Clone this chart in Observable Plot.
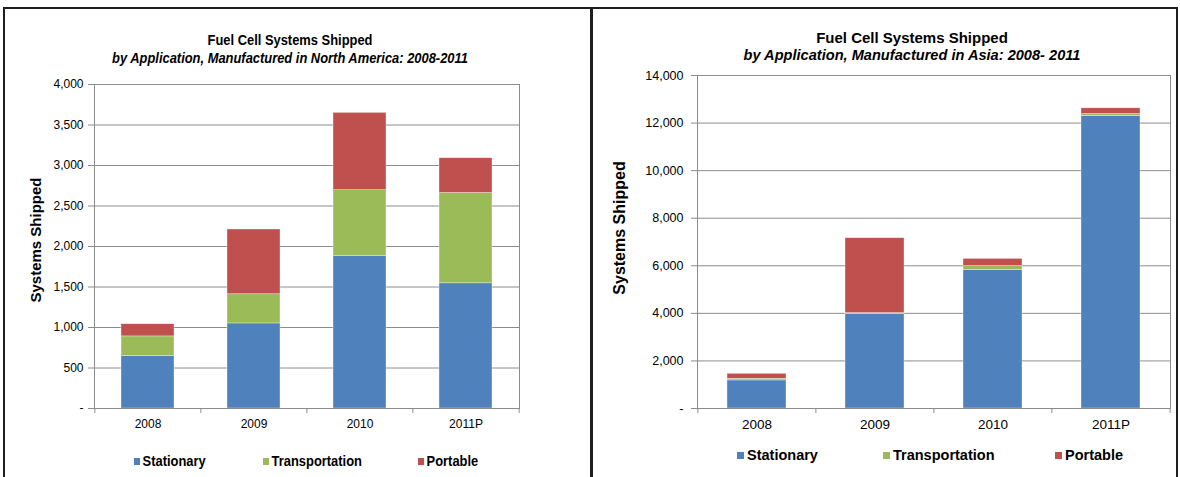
<!DOCTYPE html>
<html>
<head>
<meta charset="utf-8">
<script src="https://cdn.jsdelivr.net/npm/d3@7"></script>
<script src="https://cdn.jsdelivr.net/npm/@observablehq/plot@0.6"></script>
<style>
  html, body { margin: 0; padding: 0; background: #fff; }
  body { width: 1180px; height: 477px; position: relative; overflow: hidden;
         font-family: "Liberation Sans", Arial, sans-serif; color: #000; }
  .panel { position: absolute; top: 7px; height: 520px; border: 2px solid #1e1e1e; box-sizing: border-box; }
  .abs { position: absolute; white-space: nowrap; }
  /* condensed lettering used in the North America panel */
  .condensed { transform: scaleX(0.86); transform-origin: 50% 50%; }
  .condensed-left { transform: scaleX(0.86); transform-origin: 0 50%; }
  .title { font-weight: bold; text-align: center; }
  .subtitle { font-weight: bold; font-style: italic; text-align: center; }
  .ylabel { font-weight: bold; transform: translate(-50%, -50%) rotate(-90deg); }
  .legend-item { font-weight: bold; display: flex; align-items: center; }
  .legend-item i { display: inline-block; width: 7px; height: 7px; margin-right: 3px; }
  svg { position: absolute; overflow: visible; }
</style>
</head>
<body>
<div class="panel" style="left:3px; width:590px;"></div>
<div class="panel" style="left:590px; width:588px;"></div>
<script>
// Shipments by application, 2008–2011 (2011 projected)
const years = ["2008", "2009", "2010", "2011P"];
const series = ["Stationary", "Transportation", "Portable"];
const seriesColors = ["#4F81BD", "#9BBB59", "#C0504D"];

// Manufactured in North America
const naStationary = [650, 1050, 1880, 1545];
const naTransportation = [240, 360, 815, 1115];
const naPortable = [150, 800, 955, 430];
const naTicks = [0, 500, 1000, 1500, 2000, 2500, 3000, 3500, 4000];

// Manufactured in Asia
const asiaStationary = [1180, 3970, 5820, 12300];
const asiaTransportation = [70, 40, 170, 80];
const asiaPortable = [210, 3150, 300, 240];
const asiaTicks = [0, 2000, 4000, 6000, 8000, 10000, 12000, 14000];

const toRows = (stationary, transportation, portable) =>
  years.flatMap((year, i) => [
    {year, series: series[0], value: stationary[i]},
    {year, series: series[1], value: transportation[i]},
    {year, series: series[2], value: portable[i]}
  ]);

const tickFormat = d => d === 0 ? "-" : d3.format(",")(d);
const gridColor = "#8c8c8c";

function drawPanel(cfg) {
  const {rows, ticks, left, top, width, height, m, tickFont, xFont} = cfg;
  const step = (width - m.left - m.right) / years.length;
  const chart = Plot.plot({
    width, height,
    marginLeft: m.left, marginRight: m.right, marginTop: m.top, marginBottom: m.bottom,
    style: {fontFamily: "'Liberation Sans', Arial, sans-serif", fontSize: tickFont + "px", color: "#000", background: "transparent", overflow: "visible"},
    x: {domain: years, paddingInner: 0.5, paddingOuter: 0.25, axis: null},
    y: {domain: [0, ticks[ticks.length - 1]], axis: null},
    color: {domain: series, range: seriesColors},
    marks: [
      Plot.gridY(ticks, {stroke: gridColor, strokeOpacity: 1, insetLeft: -6}),
      Plot.barY(rows, {x: "year", y: "value", fill: "series", order: series, stroke: "#fff", strokeWidth: 0.5, strokeOpacity: 0.7}),
      Plot.frame({stroke: gridColor}),
      Plot.ruleX([...years, years[years.length - 1]], {
        x: d => d, y1: 0, y2: 0, insetTop: 0, insetBottom: -5, stroke: gridColor
      }),
      Plot.axisY(ticks, {tickSize: 0, tickPadding: cfg.tickPad, tickFormat, label: null, fontSize: tickFont + "px", fill: "#000"}),
      Plot.axisX({tickSize: 0, tickPadding: cfg.xPad, label: null, fontSize: xFont + "px", fill: "#000"})
    ]
  });
  // category ticks sit on band boundaries: move each rule from band centre to edge
  const rules = chart.querySelectorAll("g[aria-label='rule'] line");
  rules.forEach((r, i) => {
    const off = i < years.length ? -step / 2 : step / 2;
    r.setAttribute("transform", `translate(${off},0)`);
  });
  chart.style.left = left + "px";
  chart.style.top = top + "px";
  document.body.appendChild(chart);
}

function addText(cls, text, style) {
  const d = document.createElement("div");
  d.className = "abs " + cls;
  d.textContent = text;
  Object.assign(d.style, style);
  document.body.appendChild(d);
  return d;
}

function addLegend(xs, y, font, extra) {
  series.forEach((s, i) => {
    const d = document.createElement("div");
    d.className = "abs legend-item " + (extra || "");
    d.style.left = xs[i] + "px";
    d.style.top = y + "px";
    d.style.fontSize = font + "px";
    d.style.lineHeight = "16px";
    const sw = document.createElement("i");
    sw.style.background = seriesColors[i];
    d.appendChild(sw);
    d.appendChild(document.createTextNode(s));
    document.body.appendChild(d);
  });
}

// North America panel
addText("title condensed", "Fuel Cell Systems Shipped", {left: "0px", width: "580px", top: "31px", fontSize: "15px", lineHeight: "18px"});
addText("subtitle condensed", "by Application, Manufactured in North America: 2008-2011", {left: "0px", width: "580px", top: "49px", fontSize: "15px", lineHeight: "18px"});
addText("ylabel", "Systems Shipped", {left: "35px", top: "240px", fontSize: "15px"});
drawPanel({
  rows: toRows(naStationary, naTransportation, naPortable), ticks: naTicks,
  left: 0, top: 70, width: 590, height: 370,
  m: {left: 94, right: 71, top: 14, bottom: 32}, tickFont: 12, xFont: 12, tickPad: 11, xPad: 11
});
addLegend([134, 263, 418], 453, 15, "condensed-left");

// Asia panel
addText("title", "Fuel Cell Systems Shipped", {left: "592px", width: "640px", top: "29px", fontSize: "15px", lineHeight: "17px"});
addText("subtitle", "by Application, Manufactured in Asia: 2008- 2011", {left: "592px", width: "640px", top: "47px", fontSize: "14.6px", lineHeight: "17px"});
addText("ylabel", "Systems Shipped", {left: "620px", top: "228px", fontSize: "16px"});
drawPanel({
  rows: toRows(asiaStationary, asiaTransportation, asiaPortable), ticks: asiaTicks,
  left: 590, top: 60, width: 590, height: 380,
  m: {left: 107, right: 10, top: 15, bottom: 32}, tickFont: 12.5, xFont: 13.5, tickPad: 14, xPad: 11
});
addLegend([737, 883, 1055], 447, 14.5);
</script>
</body>
</html>
